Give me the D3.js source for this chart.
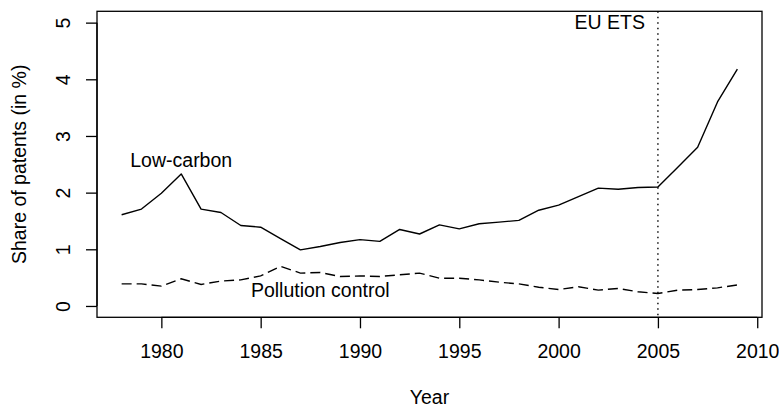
<!DOCTYPE html>
<html>
<head>
<meta charset="utf-8">
<script src="https://cdn.jsdelivr.net/npm/d3@7"></script>
<style>
  html, body { margin: 0; padding: 0; background: #fff; }
  svg { display: block; }
  text { font-family: "Liberation Sans", Arial, Helvetica, sans-serif; fill: #000; }
</style>
</head>
<body>
<svg id="chart" width="779" height="408"></svg>
<script>
const years = [1978,1979,1980,1981,1982,1983,1984,1985,1986,1987,1988,1989,1990,1991,1992,1993,1994,1995,1996,1997,1998,1999,2000,2001,2002,2003,2004,2005,2006,2007,2008,2009];
const lowCarbon = [1.61,1.71,1.99,2.33,1.71,1.65,1.42,1.39,1.19,0.99,1.05,1.12,1.17,1.14,1.35,1.27,1.43,1.36,1.45,1.48,1.51,1.69,1.78,1.93,2.08,2.06,2.09,2.10,2.45,2.80,3.60,4.18];
const pollutionControl = [0.39,0.39,0.35,0.48,0.38,0.44,0.46,0.53,0.70,0.58,0.59,0.52,0.53,0.52,0.55,0.58,0.49,0.49,0.46,0.42,0.39,0.33,0.29,0.34,0.28,0.31,0.25,0.22,0.28,0.29,0.32,0.37];
const xTicks = [1980,1985,1990,1995,2000,2005,2010];
const yTicks = [0,1,2,3,4,5];
const etsYear = 2005;
const labels = { low: "Low-carbon", poll: "Pollution control", ets: "EU ETS", x: "Year", y: "Share of patents (in %)" };

const svg = d3.select("#chart");
const box = { left: 97, right: 762, top: 11.3, bottom: 317.3 };
const fs = 19.5;

const xPad = (2009 - 1978) * 0.04;
const x = d3.scaleLinear().domain([1978 - xPad, 2009 + xPad]).range([box.left, box.right]);
const y = d3.scaleLinear().domain([-0.2, 5.2]).range([box.bottom, box.top]);

// box
svg.append("rect")
  .attr("x", box.left).attr("y", box.top)
  .attr("width", box.right - box.left).attr("height", box.bottom - box.top)
  .attr("fill", "none").attr("stroke", "#000").attr("stroke-width", 1.3);

// x axis
const xAxis = svg.append("g").attr("transform", `translate(0,${box.bottom})`)
  .call(d3.axisBottom(x).tickValues(xTicks).tickFormat(d3.format("d")).tickSize(11).tickPadding(16));
xAxis.select(".domain").attr("d", `M${x(1980)},0H${x(2010)}`).attr("stroke-width", 1.3);
xAxis.selectAll(".tick line").attr("stroke-width", 1.3);
xAxis.selectAll("text").style("font-size", fs + "px").style("font-family", "Liberation Sans, Arial, sans-serif");

// y axis
const yAxis = svg.append("g").attr("transform", `translate(${box.left},0)`)
  .call(d3.axisLeft(y).tickValues(yTicks).tickFormat(d3.format("d")).tickSize(11).tickPadding(0));
yAxis.select(".domain").attr("d", `M0,${y(0)}V${y(5)}`).attr("stroke-width", 1.3);
yAxis.selectAll(".tick line").attr("stroke-width", 1.3);
yAxis.selectAll(".tick text")
  .attr("x", null).attr("dy", null)
  .attr("text-anchor", "middle")
  .attr("transform", "translate(-27,0) rotate(-90)")
  .style("font-size", fs + "px").style("font-family", "Liberation Sans, Arial, sans-serif");

// axis titles
svg.append("text")
  .attr("x", (box.left + box.right) / 2).attr("y", 404)
  .attr("text-anchor", "middle").style("font-size", fs + "px").text(labels.x);
svg.append("text")
  .attr("transform", `translate(26,${(box.top + box.bottom) / 2}) rotate(-90)`)
  .attr("text-anchor", "middle").style("font-size", fs + "px").text(labels.y);

const line = d3.line().x((d, i) => x(years[i])).y(d => y(d));

svg.append("path").datum(lowCarbon).attr("d", line)
  .attr("fill", "none").attr("stroke", "#000").attr("stroke-width", 1.4).attr("stroke-linejoin", "round");
svg.append("path").datum(pollutionControl).attr("d", line)
  .attr("fill", "none").attr("stroke", "#000").attr("stroke-width", 1.4)
  .attr("stroke-dasharray", "10,5");

// EU ETS vertical dotted line
svg.append("line")
  .attr("x1", x(etsYear)).attr("x2", x(etsYear))
  .attr("y1", box.top).attr("y2", box.bottom)
  .attr("stroke", "#000").attr("stroke-width", 1.4).attr("stroke-dasharray", "1.5,4");

// annotations
svg.append("text").attr("x", x(1981)).attr("y", y(2.57)).attr("dy", "0.35em")
  .attr("text-anchor", "middle").style("font-size", fs + "px").text(labels.low);
svg.append("text").attr("x", x(1988)).attr("y", y(0.28)).attr("dy", "0.35em")
  .attr("text-anchor", "middle").style("font-size", fs + "px").text(labels.poll);
svg.append("text").attr("x", x(etsYear) - 13).attr("y", y(5)).attr("dy", "0.35em")
  .attr("text-anchor", "end").style("font-size", fs + "px").text(labels.ets);
</script>
</body>
</html>
